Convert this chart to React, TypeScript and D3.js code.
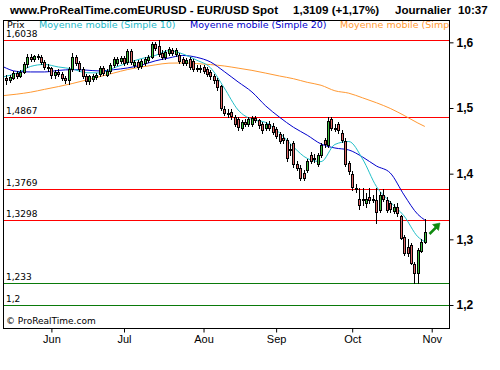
import { useEffect, useRef } from 'react';
import * as d3 from 'd3';

// Daily EUR/USD candles, one value per trading day (index 0 = first visible day)
const opens = [
  1.546, 1.542, 1.546, 1.553, 1.549, 1.555, 1.567, 1.578, 1.575, 1.579,
  1.578, 1.570, 1.562, 1.561, 1.550, 1.555, 1.552, 1.545, 1.543, 1.560,
  1.578, 1.569, 1.560, 1.549, 1.541, 1.544, 1.547, 1.552, 1.561, 1.551,
  1.556, 1.565, 1.569, 1.572, 1.576, 1.570, 1.587, 1.566, 1.570, 1.564,
  1.568, 1.573, 1.578, 1.598, 1.595, 1.584, 1.578, 1.583, 1.589, 1.582,
  1.581, 1.574, 1.568, 1.575, 1.571, 1.561, 1.560, 1.562, 1.560, 1.555,
  1.549, 1.543, 1.533, 1.498, 1.493, 1.494, 1.486, 1.483, 1.470, 1.479,
  1.475, 1.476, 1.485, 1.481, 1.476, 1.470, 1.476, 1.473, 1.468, 1.460,
  1.455, 1.451, 1.437, 1.447, 1.415, 1.409, 1.401, 1.406, 1.428, 1.424,
  1.415, 1.428, 1.451, 1.443, 1.483, 1.470, 1.475, 1.462, 1.450, 1.416,
  1.400, 1.378, 1.362, 1.360, 1.356, 1.364, 1.362, 1.360, 1.345, 1.368,
  1.360, 1.355, 1.343, 1.350, 1.335, 1.304, 1.289, 1.291, 1.262, 1.249,
  1.282, 1.2957,
];
const highs = [
  1.550, 1.550, 1.556, 1.556, 1.558, 1.570, 1.582, 1.582, 1.581, 1.582,
  1.581, 1.573, 1.567, 1.563, 1.558, 1.560, 1.555, 1.549, 1.563, 1.583,
  1.581, 1.572, 1.563, 1.552, 1.551, 1.552, 1.553, 1.564, 1.564, 1.559,
  1.568, 1.577, 1.577, 1.579, 1.579, 1.590, 1.590, 1.573, 1.573, 1.575,
  1.577, 1.581, 1.601, 1.601, 1.6038, 1.588, 1.588, 1.593, 1.592, 1.592,
  1.584, 1.577, 1.576, 1.578, 1.574, 1.566, 1.565, 1.565, 1.563, 1.558,
  1.552, 1.546, 1.535, 1.503, 1.499, 1.498, 1.489, 1.487, 1.482, 1.483,
  1.487, 1.488, 1.488, 1.484, 1.479, 1.479, 1.480, 1.477, 1.471, 1.463,
  1.460, 1.454, 1.445, 1.450, 1.420, 1.413, 1.405, 1.423, 1.433, 1.430,
  1.431, 1.446, 1.455, 1.487, 1.486, 1.475, 1.478, 1.466, 1.455, 1.420,
  1.404, 1.385, 1.378, 1.378, 1.370, 1.378, 1.368, 1.378, 1.372, 1.377,
  1.364, 1.358, 1.354, 1.356, 1.337, 1.306, 1.300, 1.294, 1.266, 1.287,
  1.301, 1.331,
];
const lows = [
  1.536, 1.539, 1.544, 1.546, 1.547, 1.553, 1.563, 1.572, 1.572, 1.574,
  1.567, 1.559, 1.557, 1.546, 1.546, 1.549, 1.542, 1.538, 1.537, 1.556,
  1.566, 1.557, 1.545, 1.537, 1.537, 1.541, 1.544, 1.549, 1.550, 1.548,
  1.553, 1.562, 1.566, 1.569, 1.566, 1.567, 1.567, 1.563, 1.560, 1.561,
  1.565, 1.570, 1.576, 1.589, 1.579, 1.575, 1.575, 1.580, 1.580, 1.579,
  1.568, 1.565, 1.565, 1.560, 1.557, 1.556, 1.555, 1.553, 1.548, 1.544,
  1.538, 1.528, 1.497, 1.489, 1.487, 1.484, 1.472, 1.467, 1.467, 1.472,
  1.472, 1.473, 1.478, 1.470, 1.462, 1.467, 1.466, 1.460, 1.454, 1.446,
  1.447, 1.419, 1.428, 1.410, 1.405, 1.390, 1.390, 1.402, 1.416, 1.418,
  1.412, 1.425, 1.441, 1.440, 1.466, 1.465, 1.462, 1.448, 1.411, 1.400,
  1.375, 1.372, 1.346, 1.352, 1.350, 1.356, 1.357, 1.325, 1.342, 1.358,
  1.341, 1.342, 1.340, 1.336, 1.300, 1.276, 1.275, 1.262, 1.234, 1.234,
  1.280, 1.294,
];
const closes = [
  1.542, 1.547, 1.553, 1.549, 1.555, 1.567, 1.578, 1.575, 1.579, 1.577,
  1.570, 1.562, 1.561, 1.550, 1.555, 1.552, 1.545, 1.543, 1.560, 1.578,
  1.569, 1.560, 1.549, 1.541, 1.548, 1.549, 1.550, 1.561, 1.553, 1.556,
  1.565, 1.574, 1.574, 1.576, 1.569, 1.587, 1.570, 1.570, 1.563, 1.572,
  1.574, 1.578, 1.598, 1.592, 1.582, 1.578, 1.585, 1.590, 1.583, 1.589,
  1.572, 1.569, 1.573, 1.563, 1.560, 1.560, 1.561, 1.557, 1.552, 1.548,
  1.542, 1.532, 1.500, 1.493, 1.492, 1.488, 1.476, 1.471, 1.479, 1.476,
  1.484, 1.485, 1.481, 1.474, 1.466, 1.476, 1.470, 1.464, 1.458, 1.450,
  1.451, 1.424, 1.436, 1.415, 1.409, 1.394, 1.394, 1.420, 1.420, 1.423,
  1.428, 1.443, 1.445, 1.480, 1.470, 1.469, 1.467, 1.452, 1.415, 1.404,
  1.380, 1.377, 1.352, 1.361, 1.362, 1.360, 1.361, 1.342, 1.368, 1.362,
  1.345, 1.346, 1.350, 1.340, 1.302, 1.279, 1.279, 1.264, 1.249, 1.284,
  1.2957, 1.3109,
];

// Month axis: label and trading-day index of the first day of that month
const monthLabels = ['Jun', 'Jul', 'Aou', 'Sep', 'Oct', 'Nov'];
const monthDays = [13, 34, 57, 78, 100, 123];

// Moving averages at these day indices
const maDays = [
  -1, 3, 7, 11, 15, 19, 23, 27, 31, 35, 39, 43, 47, 51, 55, 59,
  63, 67, 71, 75, 79, 83, 87, 91, 95, 99, 103, 107, 111, 115, 119, 121,
];
const ma10 = [
  1.5473, 1.5531, 1.5633, 1.5663, 1.5625, 1.5595, 1.5537, 1.5534, 1.5610, 1.5686, 1.5752, 1.5799, 1.5875, 1.5823, 1.5729, 1.5613,
  1.5305, 1.4970, 1.4826, 1.4780, 1.4620, 1.4407, 1.4232, 1.4183, 1.4445, 1.4490, 1.4224, 1.3805, 1.3569, 1.3356, 1.3039, 1.2964,
];
const ma20 = [
  1.5630, 1.5557, 1.5549, 1.5549, 1.5572, 1.5584, 1.5577, 1.5564, 1.5583, 1.5610, 1.5653, 1.5717, 1.5762, 1.5800, 1.5772, 1.5701,
  1.5555, 1.5397, 1.5244, 1.5031, 1.4859, 1.4707, 1.4586, 1.4452, 1.4391, 1.4361, 1.4254, 1.4117, 1.4011, 1.3676, 1.3379, 1.3295,
];
const maLong = [
  1.5188, 1.5211, 1.5241, 1.5284, 1.5326, 1.5372, 1.5425, 1.5478, 1.5532, 1.5585, 1.5624, 1.5656, 1.5683, 1.5686, 1.5676, 1.5661,
  1.5640, 1.5607, 1.5573, 1.5531, 1.5487, 1.5446, 1.5391, 1.5346, 1.5262, 1.5226, 1.5155, 1.5080, 1.4994, 1.4887, 1.4771, 1.4719,
];

// Horizontal levels and price axis ticks
const redLevels = [1.6038, 1.4867, 1.3769, 1.3298];
const greenLevels = [1.233, 1.2];
const priceTicks = [1.2, 1.3, 1.4, 1.5, 1.6];

const comma = (v: number) => String(v).replace('.', ',');

export default function App() {
  const svgRef = useRef<SVGSVGElement | null>(null);

  useEffect(() => {
    if (!svgRef.current) return;
    const svg = d3.select(svgRef.current);
    svg.selectAll('*').remove();

    const W = 500, H = 370;
    const left = 3, right = 449, top = 20, bottom = 328;
    const font = '"Liberation Sans", Arial, sans-serif';
    const small = '"DejaVu Sans", Verdana, sans-serif';

    const x = d3.scaleLinear().domain([-1, 128]).range([left, right]);
    const y = d3.scaleLinear().domain([1.165, 1.634]).range([bottom, top]);
    const py = (v: number) => Math.round(y(v)) + 0.5;

    svg.append('rect').attr('width', W).attr('height', H).attr('fill', '#fff');

    // header line
    const last = closes[closes.length - 1];
    const prev = closes[closes.length - 2];
    const pct = ((last / prev - 1) * 100).toFixed(2).replace('.', ',');
    const head = svg.append('g')
      .attr('font-family', font).attr('font-weight', 'bold').attr('font-size', 11.6).attr('fill', '#000');
    head.append('text').attr('x', 10).attr('y', 14).text('www.ProRealTime.comEURUSD - EUR/USD Spot');
    head.append('text').attr('x', 293).attr('y', 14).text(`${last.toFixed(4).replace('.', ',')} (+${pct}%)`);
    head.append('text').attr('x', 395).attr('y', 14).text('Journalier');
    head.append('text').attr('x', 458).attr('y', 14).text('10:37');

    svg.append('defs').append('clipPath').attr('id', 'plot-clip')
      .append('rect').attr('x', left).attr('y', top).attr('width', right - left).attr('height', bottom - top);

    const plot = svg.append('g').attr('clip-path', 'url(#plot-clip)');

    // support / resistance lines with their labels
    const levels = [
      ...redLevels.map(v => ({ v, c: '#ff0000' })),
      ...greenLevels.map(v => ({ v, c: '#0a7a0a' })),
    ];
    plot.selectAll('line.level').data(levels).join('line')
      .attr('class', 'level')
      .attr('x1', left).attr('x2', right)
      .attr('y1', d => py(d.v)).attr('y2', d => py(d.v))
      .attr('stroke', d => d.c).attr('stroke-width', 1);
    plot.selectAll('text.level').data(levels).join('text')
      .attr('class', 'level')
      .attr('x', 6).attr('y', d => Math.round(y(d.v)) - 3)
      .attr('font-family', small).attr('font-size', 9).attr('fill', '#000')
      .text(d => comma(d.v));

    // moving averages
    const maLine = d3.line<number>()
      .x((_, i) => x(maDays[i]))
      .y(d => y(d))
      .curve(d3.curveMonotoneX);
    const mas = [
      { vals: maLong, c: '#ff9933' },
      { vals: ma20, c: '#0000cc' },
      { vals: ma10, c: '#22c0c8' },
    ];
    plot.selectAll('path.ma').data(mas).join('path')
      .attr('class', 'ma')
      .attr('d', d => maLine(d.vals))
      .attr('fill', 'none').attr('stroke', d => d.c).attr('stroke-width', 1);

    // candles
    const days = d3.range(closes.length);
    const candle = plot.selectAll('g.candle').data(days).join('g').attr('class', 'candle');
    candle.append('line')
      .attr('x1', i => Math.round(x(i)) + 0.5).attr('x2', i => Math.round(x(i)) + 0.5)
      .attr('y1', i => Math.round(y(highs[i]))).attr('y2', i => Math.round(y(lows[i])) + 1)
      .attr('stroke', '#000').attr('stroke-width', 1);
    candle.append('rect')
      .attr('x', i => Math.round(x(i)) - 0.5)
      .attr('y', i => py(Math.max(opens[i], closes[i])))
      .attr('width', 2)
      .attr('height', i => Math.max(1, Math.round(y(Math.min(opens[i], closes[i]))) - Math.round(y(Math.max(opens[i], closes[i])))))
      .attr('fill', i => (closes[i] >= opens[i] ? '#3cbf3c' : '#e06868'))
      .attr('stroke', '#000').attr('stroke-width', 1);

    // legend inside the frame
    const legend = plot.append('g').attr('font-family', small).attr('font-size', 9.5);
    legend.append('text').attr('x', 7).attr('y', 28).attr('fill', '#000').text('Prix');
    legend.append('text').attr('x', 39).attr('y', 28).attr('fill', '#22b8c8').text('Moyenne mobile (Simple 10)');
    legend.append('text').attr('x', 190).attr('y', 28).attr('fill', '#0000cc').text('Moyenne mobile (Simple 20)');
    legend.append('text').attr('x', 340).attr('y', 28).attr('fill', '#ff9933').text('Moyenne mobile (Simple 100)');

    plot.append('text').attr('x', 6).attr('y', 324)
      .attr('font-family', small).attr('font-size', 9).attr('fill', '#000')
      .text('© ProRealTime.com');

    // trend arrow after the last candle
    const ax = Math.round(x(closes.length - 1)) + 4;
    const ay = Math.round(y(last)) + 2;
    const arrow = svg.append('g').attr('fill', '#108a10').attr('stroke', '#108a10');
    arrow.append('line').attr('x1', ax + 0.5).attr('y1', ay).attr('x2', ax + 7).attr('y2', ay - 6.5).attr('stroke-width', 2.5);
    arrow.append('path').attr('d', `M${ax + 11},${ay - 11} L${ax + 3.5},${ay - 9.5} L${ax + 9.5},${ay - 3.5} Z`).attr('stroke-width', 0.5);

    // frame
    svg.append('rect')
      .attr('x', left + 0.5).attr('y', top + 0.5)
      .attr('width', right - left).attr('height', bottom - top)
      .attr('fill', 'none').attr('stroke', '#000').attr('stroke-width', 1);

    // price axis on the right
    const yAxis = svg.append('g').attr('transform', `translate(${right + 0.5},0)`)
      .call(d3.axisRight(y).tickValues(priceTicks).tickSize(4).tickPadding(3).tickFormat(d => comma(+d)));
    yAxis.select('.domain').remove();
    yAxis.selectAll('.tick line').attr('stroke', '#000');
    yAxis.selectAll('.tick text').attr('font-family', font).attr('font-size', 12).attr('font-weight', 'bold').attr('fill', '#000');

    // month axis at the bottom
    const xAxis = svg.append('g').attr('transform', `translate(0,${bottom + 0.5})`)
      .call(d3.axisBottom(x).tickValues(monthDays).tickSize(4).tickPadding(3).tickFormat((_, i) => monthLabels[i]));
    xAxis.select('.domain').remove();
    xAxis.selectAll('.tick line').attr('stroke', '#000');
    xAxis.selectAll('.tick text').attr('font-family', font).attr('font-size', 11).attr('fill', '#000');

    return () => {
      svg.selectAll('*').remove();
    };
  }, []);

  return (
    <svg
      ref={svgRef}
      width={500}
      height={370}
      style={{ position: 'absolute', left: 0, top: 0, display: 'block' }}
    />
  );
}
